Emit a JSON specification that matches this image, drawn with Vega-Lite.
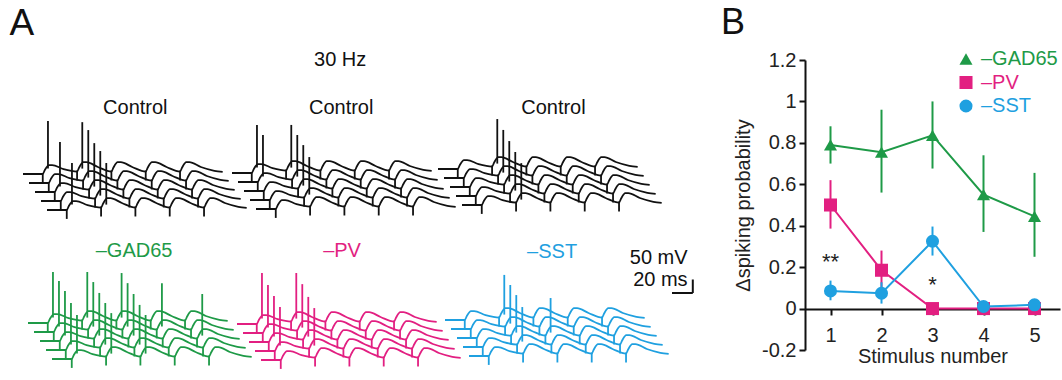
{
"$schema": "https://vega.github.io/schema/vega-lite/v6.json",
"width": 1062,
"height": 380,
"autosize": {"type": "none"},
"padding": 0,
"background": "white",
"datasets": {
"w": [
{"t":0,"v":0,"sw":[0,1,2,3,4]},{"t":19,"v":0,"sw":[0,1,2,3,4]},{"t":21,"v":15,"sw":[0,1,2,3,4]},{"t":25,"v":33,"sw":[0,1,2,3,4]},{"t":28,"v":33,"sw":[0,1,2,3,4]},{"t":39,"v":18,"sw":[0,1,2,3,4]},
{"t":52,"v":9,"sw":[0,1,2,3,4]},{"t":54,"v":24,"sw":[0,1,2,3,4]},{"t":58,"v":44,"sw":[0,1,2,3,4]},{"t":61,"v":44,"sw":[0,1,2,3,4]},{"t":72,"v":26,"sw":[0,1,2,3,4]},
{"t":85,"v":9,"sw":[0,1,2,3,4]},{"t":87,"v":24,"sw":[0,1,2,3,4]},{"t":91,"v":44,"sw":[0,1,2,3,4]},{"t":94,"v":44,"sw":[0,1,2,3,4]},{"t":105,"v":26,"sw":[0,1,2,3,4]},
{"t":118,"v":9,"sw":[0,1,2,3,4]},{"t":120,"v":24,"sw":[0,1,2,3,4]},{"t":124,"v":44,"sw":[0,1,2,3,4]},{"t":127,"v":44,"sw":[0,1,2,3,4]},{"t":138,"v":26,"sw":[0,1,2,3,4]},
{"t":151,"v":9,"sw":[0,1,2,3,4]},{"t":153,"v":24,"sw":[0,1,2,3,4]},{"t":157,"v":44,"sw":[0,1,2,3,4]},{"t":160,"v":44,"sw":[0,1,2,3,4]},{"t":171,"v":26,"sw":[0,1,2,3,4]},
{"t":184,"v":12,"sw":[0,1,2,3,4]},{"t":192,"v":8,"sw":[0,1,2,3,4]}
],
"art": [
{"t":19,"a":-33,"b":4,"sw":[0,1,2,3,4]},{"t":52,"a":-24,"b":13,"sw":[0,1,2,3,4]},{"t":85,"a":-24,"b":13,"sw":[0,1,2,3,4]},{"t":118,"a":-24,"b":13,"sw":[0,1,2,3,4]},{"t":151,"a":-24,"b":13,"sw":[0,1,2,3,4]}
],
"sp": [
{"p":"c1","sw":0,"t":24,"b":20,"top":196},{"p":"c1","sw":2,"t":24,"b":20,"top":185},{"p":"c1","sw":4,"t":24,"b":20,"top":174},
{"p":"c1","sw":0,"t":57,"b":20,"top":192},{"p":"c1","sw":1,"t":57,"b":20,"top":196},{"p":"c1","sw":2,"t":57,"b":20,"top":181},{"p":"c1","sw":3,"t":57,"b":20,"top":185},{"p":"c1","sw":4,"t":57,"b":20,"top":174},
{"p":"c2","sw":0,"t":24,"b":20,"top":178},{"p":"c2","sw":1,"t":24,"b":20,"top":174},
{"p":"c2","sw":0,"t":57,"b":20,"top":178},{"p":"c2","sw":1,"t":57,"b":20,"top":174},{"p":"c2","sw":2,"t":57,"b":20,"top":170},{"p":"c2","sw":3,"t":57,"b":20,"top":159},
{"p":"c3","sw":0,"t":57,"b":20,"top":185},{"p":"c3","sw":1,"t":57,"b":20,"top":178},{"p":"c3","sw":2,"t":57,"b":20,"top":170},{"p":"c3","sw":3,"t":57,"b":20,"top":163},{"p":"c3","sw":4,"t":57,"b":20,"top":155},
{"p":"g","sw":0,"t":24,"b":20,"top":189},{"p":"g","sw":1,"t":24,"b":20,"top":189},{"p":"g","sw":2,"t":24,"b":20,"top":185},{"p":"g","sw":3,"t":24,"b":20,"top":174},{"p":"g","sw":4,"t":24,"b":20,"top":163},
{"p":"g","sw":0,"t":57,"b":20,"top":189},{"p":"g","sw":1,"t":57,"b":20,"top":185},{"p":"g","sw":2,"t":57,"b":20,"top":178},{"p":"g","sw":3,"t":57,"b":20,"top":174},{"p":"g","sw":4,"t":57,"b":20,"top":170},
{"p":"g","sw":0,"t":90,"b":20,"top":185},{"p":"g","sw":1,"t":90,"b":20,"top":181},{"p":"g","sw":2,"t":90,"b":20,"top":174},{"p":"g","sw":3,"t":90,"b":20,"top":167},{"p":"g","sw":4,"t":90,"b":20,"top":163},
{"p":"g","sw":1,"t":123,"b":20,"top":181},{"p":"g","sw":2,"t":156,"b":20,"top":174},
{"p":"pv","sw":0,"t":24,"b":20,"top":189},{"p":"pv","sw":1,"t":24,"b":20,"top":178},{"p":"pv","sw":2,"t":24,"b":20,"top":170},{"p":"pv","sw":3,"t":24,"b":20,"top":163},
{"p":"pv","sw":0,"t":57,"b":20,"top":189},{"p":"pv","sw":1,"t":57,"b":20,"top":181},{"p":"pv","sw":2,"t":57,"b":20,"top":167},{"p":"pv","sw":3,"t":57,"b":20,"top":159},
{"p":"sst","sw":0,"t":57,"b":20,"top":167},{"p":"sst","sw":1,"t":57,"b":20,"top":163},{"p":"sst","sw":2,"t":57,"b":20,"top":159},{"p":"sst","sw":3,"t":57,"b":20,"top":148},
{"p":"sst","sw":2,"t":90,"b":20,"top":148}
],
"pb": [
{"g":"–GAD65","x":1,"y":0.79,"lo":0.70,"hi":0.88},{"g":"–GAD65","x":2,"y":0.755,"lo":0.56,"hi":0.96},{"g":"–GAD65","x":3,"y":0.836,"lo":0.676,"hi":1.0},{"g":"–GAD65","x":4,"y":0.55,"lo":0.37,"hi":0.74},{"g":"–GAD65","x":5,"y":0.445,"lo":0.25,"hi":0.655},
{"g":"–PV","x":1,"y":0.50,"lo":0.386,"hi":0.62},{"g":"–PV","x":2,"y":0.185,"lo":0.07,"hi":0.28},{"g":"–PV","x":3,"y":0,"lo":0,"hi":0},{"g":"–PV","x":4,"y":0,"lo":0,"hi":0},{"g":"–PV","x":5,"y":0,"lo":0,"hi":0},
{"g":"–SST","x":1,"y":0.085,"lo":0.04,"hi":0.135},{"g":"–SST","x":2,"y":0.074,"lo":0.024,"hi":0.127},{"g":"–SST","x":3,"y":0.325,"lo":0.256,"hi":0.396},{"g":"–SST","x":4,"y":0.01,"lo":0,"hi":0.02},{"g":"–SST","x":5,"y":0.018,"lo":0,"hi":0.035}
]
},
"layer": [
{"layer": [
{"data":{"name":"w"},"transform":[{"flatten":["sw"]}],"mark":{"type":"line","color":"#111111","strokeWidth":1.8,"interpolate":"monotone","xOffset":{"expr":"datum.sw*6"},"yOffset":{"expr":"datum.sw*9"}},
"encoding":{"x":{"field":"t","type":"quantitative","scale":{"domain":[0,100],"range":[23,127],"nice":false,"zero":false},"axis":null},"y":{"field":"v","type":"quantitative","scale":{"domain":[0,100],"range":[174,147],"nice":false,"zero":false},"axis":null},"detail":{"field":"sw","type":"nominal"}}},
{"data":{"name":"art"},"transform":[{"flatten":["sw"]}],"mark":{"type":"rule","color":"#111111","strokeWidth":1.8,"xOffset":{"expr":"datum.sw*6"},"yOffset":{"expr":"datum.sw*9"},"y2Offset":{"expr":"datum.sw*9"}},
"encoding":{"x":{"field":"t","type":"quantitative","axis":null},"y":{"field":"a","type":"quantitative","axis":null},"y2":{"field":"b"}}},
{"data":{"name":"sp"},"transform":[{"filter":"datum.p==='c1'"}],"mark":{"type":"rule","color":"#111111","strokeWidth":1.8,"xOffset":{"expr":"datum.sw*6"},"yOffset":{"expr":"datum.sw*9"},"y2Offset":{"expr":"datum.sw*9"}},
"encoding":{"x":{"field":"t","type":"quantitative","axis":null},"y":{"field":"b","type":"quantitative","axis":null},"y2":{"field":"top"}}},
{"data":{"values":[{"label":"Control","t":108,"v":244,"size":"small"},{"label":"A","t":-1,"v":555,"size":"big"}]},"mark":{"type":"text","color":"#111111","baseline":"middle"},
"encoding":{"x":{"field":"t","type":"quantitative","axis":null},"y":{"field":"v","type":"quantitative","axis":null},"text":{"field":"label"},"size":{"field":"size","type":"nominal","scale":{"domain":["small","big"],"range":[20,37]},"legend":null}}}
]},
{"layer": [
{"data":{"name":"w"},"transform":[{"flatten":["sw"]}],"mark":{"type":"line","color":"#111111","strokeWidth":1.8,"interpolate":"monotone","xOffset":{"expr":"datum.sw*6"},"yOffset":{"expr":"datum.sw*9"}},
"encoding":{"x":{"field":"t","type":"quantitative","scale":{"domain":[0,100],"range":[232,336],"nice":false,"zero":false},"axis":null},"y":{"field":"v","type":"quantitative","scale":{"domain":[0,100],"range":[173,146],"nice":false,"zero":false},"axis":null},"detail":{"field":"sw","type":"nominal"}}},
{"data":{"name":"art"},"transform":[{"flatten":["sw"]}],"mark":{"type":"rule","color":"#111111","strokeWidth":1.8,"xOffset":{"expr":"datum.sw*6"},"yOffset":{"expr":"datum.sw*9"},"y2Offset":{"expr":"datum.sw*9"}},
"encoding":{"x":{"field":"t","type":"quantitative","axis":null},"y":{"field":"a","type":"quantitative","axis":null},"y2":{"field":"b"}}},
{"data":{"name":"sp"},"transform":[{"filter":"datum.p==='c2'"}],"mark":{"type":"rule","color":"#111111","strokeWidth":1.8,"xOffset":{"expr":"datum.sw*6"},"yOffset":{"expr":"datum.sw*9"},"y2Offset":{"expr":"datum.sw*9"}},
"encoding":{"x":{"field":"t","type":"quantitative","axis":null},"y":{"field":"b","type":"quantitative","axis":null},"y2":{"field":"top"}}},
{"data":{"values":[{"label":"Control","t":105,"v":241},{"label":"30 Hz","t":104,"v":418}]},"mark":{"type":"text","color":"#111111","fontSize":20,"baseline":"middle"},
"encoding":{"x":{"field":"t","type":"quantitative","axis":null},"y":{"field":"v","type":"quantitative","axis":null},"text":{"field":"label"}}}
]},
{"layer": [
{"data":{"name":"w"},"transform":[{"flatten":["sw"]}],"mark":{"type":"line","color":"#111111","strokeWidth":1.8,"interpolate":"monotone","xOffset":{"expr":"datum.sw*6"},"yOffset":{"expr":"datum.sw*9"}},
"encoding":{"x":{"field":"t","type":"quantitative","scale":{"domain":[0,100],"range":[438,542],"nice":false,"zero":false},"axis":null},"y":{"field":"v","type":"quantitative","scale":{"domain":[0,100],"range":[169,142],"nice":false,"zero":false},"axis":null},"detail":{"field":"sw","type":"nominal"}}},
{"data":{"name":"art"},"transform":[{"flatten":["sw"]}],"mark":{"type":"rule","color":"#111111","strokeWidth":1.8,"xOffset":{"expr":"datum.sw*6"},"yOffset":{"expr":"datum.sw*9"},"y2Offset":{"expr":"datum.sw*9"}},
"encoding":{"x":{"field":"t","type":"quantitative","axis":null},"y":{"field":"a","type":"quantitative","axis":null},"y2":{"field":"b"}}},
{"data":{"name":"sp"},"transform":[{"filter":"datum.p==='c3'"}],"mark":{"type":"rule","color":"#111111","strokeWidth":1.8,"xOffset":{"expr":"datum.sw*6"},"yOffset":{"expr":"datum.sw*9"},"y2Offset":{"expr":"datum.sw*9"}},
"encoding":{"x":{"field":"t","type":"quantitative","axis":null},"y":{"field":"b","type":"quantitative","axis":null},"y2":{"field":"top"}}},
{"data":{"values":[{"label":"Control","t":111,"v":226}]},"mark":{"type":"text","color":"#111111","fontSize":20,"baseline":"middle"},
"encoding":{"x":{"field":"t","type":"quantitative","axis":null},"y":{"field":"v","type":"quantitative","axis":null},"text":{"field":"label"}}}
]},
{"layer": [
{"data":{"name":"w"},"transform":[{"flatten":["sw"]}],"mark":{"type":"line","color":"#1e9a47","strokeWidth":1.8,"interpolate":"monotone","xOffset":{"expr":"datum.sw*6"},"yOffset":{"expr":"datum.sw*9"}},
"encoding":{"x":{"field":"t","type":"quantitative","scale":{"domain":[0,100],"range":[28,132],"nice":false,"zero":false},"axis":null},"y":{"field":"v","type":"quantitative","scale":{"domain":[0,100],"range":[323,296],"nice":false,"zero":false},"axis":null},"detail":{"field":"sw","type":"nominal"}}},
{"data":{"name":"art"},"transform":[{"flatten":["sw"]}],"mark":{"type":"rule","color":"#1e9a47","strokeWidth":1.8,"xOffset":{"expr":"datum.sw*6"},"yOffset":{"expr":"datum.sw*9"},"y2Offset":{"expr":"datum.sw*9"}},
"encoding":{"x":{"field":"t","type":"quantitative","axis":null},"y":{"field":"a","type":"quantitative","axis":null},"y2":{"field":"b"}}},
{"data":{"name":"sp"},"transform":[{"filter":"datum.p==='g'"}],"mark":{"type":"rule","color":"#1e9a47","strokeWidth":1.8,"xOffset":{"expr":"datum.sw*6"},"yOffset":{"expr":"datum.sw*9"},"y2Offset":{"expr":"datum.sw*9"}},
"encoding":{"x":{"field":"t","type":"quantitative","axis":null},"y":{"field":"b","type":"quantitative","axis":null},"y2":{"field":"top"}}},
{"data":{"values":[{"label":"–GAD65","t":102,"v":267}]},"mark":{"type":"text","color":"#1e9a47","fontSize":20,"baseline":"middle"},
"encoding":{"x":{"field":"t","type":"quantitative","axis":null},"y":{"field":"v","type":"quantitative","axis":null},"text":{"field":"label"}}}
]},
{"layer": [
{"data":{"name":"w"},"transform":[{"flatten":["sw"]}],"mark":{"type":"line","color":"#e21f81","strokeWidth":1.8,"interpolate":"monotone","xOffset":{"expr":"datum.sw*6"},"yOffset":{"expr":"datum.sw*9"}},
"encoding":{"x":{"field":"t","type":"quantitative","scale":{"domain":[0,100],"range":[237,341],"nice":false,"zero":false},"axis":null},"y":{"field":"v","type":"quantitative","scale":{"domain":[0,100],"range":[324,297],"nice":false,"zero":false},"axis":null},"detail":{"field":"sw","type":"nominal"}}},
{"data":{"name":"art"},"transform":[{"flatten":["sw"]}],"mark":{"type":"rule","color":"#e21f81","strokeWidth":1.8,"xOffset":{"expr":"datum.sw*6"},"yOffset":{"expr":"datum.sw*9"},"y2Offset":{"expr":"datum.sw*9"}},
"encoding":{"x":{"field":"t","type":"quantitative","axis":null},"y":{"field":"a","type":"quantitative","axis":null},"y2":{"field":"b"}}},
{"data":{"name":"sp"},"transform":[{"filter":"datum.p==='pv'"}],"mark":{"type":"rule","color":"#e21f81","strokeWidth":1.8,"xOffset":{"expr":"datum.sw*6"},"yOffset":{"expr":"datum.sw*9"},"y2Offset":{"expr":"datum.sw*9"}},
"encoding":{"x":{"field":"t","type":"quantitative","axis":null},"y":{"field":"b","type":"quantitative","axis":null},"y2":{"field":"top"}}},
{"data":{"values":[{"label":"–PV","t":101,"v":270}]},"mark":{"type":"text","color":"#e21f81","fontSize":20,"baseline":"middle"},
"encoding":{"x":{"field":"t","type":"quantitative","axis":null},"y":{"field":"v","type":"quantitative","axis":null},"text":{"field":"label"}}}
]},
{"layer": [
{"data":{"name":"w"},"transform":[{"flatten":["sw"]}],"mark":{"type":"line","color":"#1fa0e0","strokeWidth":1.8,"interpolate":"monotone","xOffset":{"expr":"datum.sw*6"},"yOffset":{"expr":"datum.sw*9"}},
"encoding":{"x":{"field":"t","type":"quantitative","scale":{"domain":[0,100],"range":[445,549],"nice":false,"zero":false},"axis":null},"y":{"field":"v","type":"quantitative","scale":{"domain":[0,100],"range":[320,293],"nice":false,"zero":false},"axis":null},"detail":{"field":"sw","type":"nominal"}}},
{"data":{"name":"art"},"transform":[{"flatten":["sw"]}],"mark":{"type":"rule","color":"#1fa0e0","strokeWidth":1.8,"xOffset":{"expr":"datum.sw*6"},"yOffset":{"expr":"datum.sw*9"},"y2Offset":{"expr":"datum.sw*9"}},
"encoding":{"x":{"field":"t","type":"quantitative","axis":null},"y":{"field":"a","type":"quantitative","axis":null},"y2":{"field":"b"}}},
{"data":{"name":"sp"},"transform":[{"filter":"datum.p==='sst'"}],"mark":{"type":"rule","color":"#1fa0e0","strokeWidth":1.8,"xOffset":{"expr":"datum.sw*6"},"yOffset":{"expr":"datum.sw*9"},"y2Offset":{"expr":"datum.sw*9"}},
"encoding":{"x":{"field":"t","type":"quantitative","axis":null},"y":{"field":"b","type":"quantitative","axis":null},"y2":{"field":"top"}}},
{"data":{"values":[{"label":"–SST","t":103,"v":252}]},"mark":{"type":"text","color":"#1fa0e0","fontSize":20,"baseline":"middle"},
"encoding":{"x":{"field":"t","type":"quantitative","axis":null},"y":{"field":"v","type":"quantitative","axis":null},"text":{"field":"label"}}}
]},
{"layer": [
{"data":{"values":[{"bar":"time","t0":0,"t1":20,"v0":0,"v1":0},{"bar":"voltage","t0":20,"t1":20,"v0":0,"v1":50}]},"mark":{"type":"rule","color":"#111111","strokeWidth":2},
"encoding":{"x":{"field":"t0","type":"quantitative","scale":{"domain":[0,100],"range":[672,776],"nice":false,"zero":false},"axis":null},"x2":{"field":"t1"},"y":{"field":"v0","type":"quantitative","scale":{"domain":[0,100],"range":[293,266],"nice":false,"zero":false},"axis":null},"y2":{"field":"v1"}}},
{"data":{"values":[{"label":"50 mV","t0":15,"v0":130},{"label":"20 ms","t0":15,"v0":48}]},"mark":{"type":"text","color":"#111111","fontSize":20,"align":"right","baseline":"middle"},
"encoding":{"x":{"field":"t0","type":"quantitative","axis":null},"y":{"field":"v0","type":"quantitative","axis":null},"text":{"field":"label"}}}
]},
{"data": {"name": "pb"},
"layer": [
{"mark": {"type": "rule", "strokeWidth": 2},
"encoding": {
"x": {"field": "x", "type": "quantitative", "scale": {"domain": [0.5, 5.5], "range": [805, 1060], "nice": false, "zero": false},
"axis": {"orient": "bottom", "title": "Stimulus number", "values": [1,2,3,4,5], "format": "d", "offset": -71, "tickSize": 6, "tickWidth": 2, "domainWidth": 2, "domainColor": "#111111", "tickColor": "#111111", "labelFontSize": 20, "labelColor": "#222222", "labelPadding": 10, "titleFontSize": 20, "titleFontWeight": "normal", "titleColor": "#222222", "titlePadding": 1, "grid": false, "labelFlush": false}},
"y": {"field": "lo", "type": "quantitative", "scale": {"domain": [-0.2, 1.2], "range": [350, 60], "nice": false, "zero": false},
"axis": {"orient": "left", "title": "Δspiking probability", "values": [-0.2,0,0.2,0.4,0.6,0.8,1,1.2], "offset": -805, "labelExpr": "datum.value < 0 ? '-' + format(-datum.value, '~g') : format(datum.value, '~g')", "tickSize": 6, "tickWidth": 2, "domainWidth": 2, "domainColor": "#111111", "tickColor": "#111111", "labelFontSize": 20, "labelColor": "#222222", "labelPadding": 3, "titleFontSize": 20, "titleFontWeight": "normal", "titleColor": "#222222", "titlePadding": 8, "grid": false}},
"y2": {"field": "hi"},
"color": {"field": "g", "type": "nominal", "scale": {"domain": ["–GAD65","–PV","–SST"], "range": ["#1e9a47","#e21f81","#1fa0e0"]}}
}},
{"mark": {"type": "line", "strokeWidth": 2},
"encoding": {
"x": {"field": "x", "type": "quantitative"},
"y": {"field": "y", "type": "quantitative"},
"color": {"field": "g", "type": "nominal"}
}},
{"mark": {"type": "point", "filled": true, "size": 170, "opacity": 1},
"encoding": {
"x": {"field": "x", "type": "quantitative"},
"y": {"field": "y", "type": "quantitative"},
"color": {"field": "g", "type": "nominal", "legend": {"title": null, "orient": "none", "legendX": 956, "legendY": 49, "labelFontSize": 20, "symbolSize": 170, "labelOffset": 5, "rowPadding": 3.5, "padding": 0, "symbolStrokeWidth": 0, "labelColor": {"expr": "datum.value == '–GAD65' ? '#1e9a47' : datum.value == '–PV' ? '#e21f81' : '#1fa0e0'"}}},
"shape": {"field": "g", "type": "nominal", "scale": {"domain": ["–GAD65","–PV","–SST"], "range": ["triangle-up","square","circle"]}, "legend": {"title": null, "orient": "none", "legendX": 956, "legendY": 49, "labelFontSize": 20, "symbolSize": 170, "labelOffset": 5, "rowPadding": 3.5, "padding": 0, "symbolStrokeWidth": 0, "labelColor": {"expr": "datum.value == '–GAD65' ? '#1e9a47' : datum.value == '–PV' ? '#e21f81' : '#1fa0e0'"}}}
}},
{"data": {"values": [{"x": 1, "y": 0.256, "s": "**"}, {"x": 3, "y": 0.145, "s": "*"}]},
"mark": {"type": "text", "fontSize": 22, "color": "#222222", "dy": 6},
"encoding": {
"x": {"field": "x", "type": "quantitative"},
"y": {"field": "y", "type": "quantitative"},
"text": {"field": "s"}
}},
{"data": {"values": [{"x": -0.91, "y": 1.379, "s": "B"}]},
"mark": {"type": "text", "fontSize": 36, "color": "#111111", "baseline": "middle"},
"encoding": {
"x": {"field": "x", "type": "quantitative"},
"y": {"field": "y", "type": "quantitative"},
"text": {"field": "s"}
}}
]}
],
"resolve": {"scale": {"x": "independent", "y": "independent"}},
"config": {
"font": "Liberation Sans",
"view": {"stroke": null},
"axis": {"labelFont": "Liberation Sans", "titleFont": "Liberation Sans"},
"legend": {"labelFont": "Liberation Sans"},
"text": {"font": "Liberation Sans"}
}
}
